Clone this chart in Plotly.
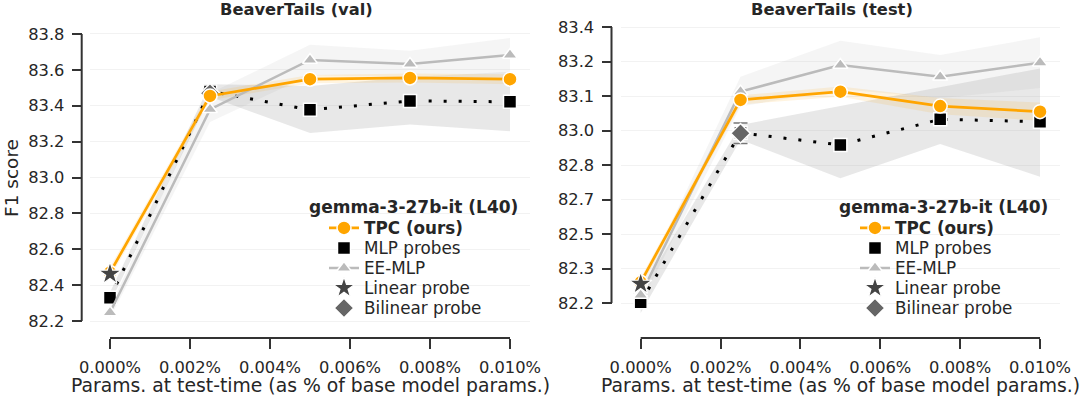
import plotly.graph_objects as go

# ---------------- data ----------------
x_params = [0.0, 0.0025, 0.005, 0.0075, 0.01]
x_ticks = [0.0, 0.002, 0.004, 0.006, 0.008, 0.010]
x_ticktext = ["0.000%", "0.002%", "0.004%", "0.006%", "0.008%", "0.010%"]

# BeaverTails (val)
val_yticks = [82.2, 82.4, 82.6, 82.8, 83.0, 83.2, 83.4, 83.6, 83.8]
val_yticktext = ["82.2", "82.4", "82.6", "82.8", "83.0", "83.2", "83.4", "83.6", "83.8"]
tpc_val = [82.47, 83.455, 83.548, 83.555, 83.548]
tpc_val_lo = [82.44, 83.43, 83.525, 83.53, 83.52]
tpc_val_hi = [82.50, 83.48, 83.572, 83.58, 83.575]
mlp_val = [82.33, 83.48, 83.377, 83.427, 83.422]
mlp_val_lo = [82.30, 83.45, 83.248, 83.295, 83.258]
mlp_val_hi = [82.36, 83.52, 83.51, 83.56, 83.59]
ee_val = [82.247, 83.38, 83.655, 83.633, 83.683]
ee_val_lo = [82.215, 83.31, 83.57, 83.56, 83.59]
ee_val_hi = [82.28, 83.47, 83.74, 83.707, 83.778]
linear_x = [0.0]
linear_val = [82.463]
bilinear_x = [0.0025]
bilinear_val = [83.47]
bilinear_val_err = [0.02]

# BeaverTails (test)
test_yticks = [82.2, 82.35, 82.5, 82.65, 82.8, 82.95, 83.1, 83.25, 83.4]
test_yticktext = ["82.2", "82.3", "82.5", "82.7", "82.8", "83.0", "83.1", "83.2", "83.4"]
tpc_test = [82.29, 83.083, 83.119, 83.056, 83.032]
tpc_test_lo = [82.27, 83.063, 83.097, 83.021, 82.992]
tpc_test_hi = [82.31, 83.103, 83.141, 83.091, 83.072]
mlp_test = [82.203, 82.94, 82.887, 82.999, 82.988]
mlp_test_lo = [82.157, 82.91, 82.742, 82.891, 82.749]
mlp_test_hi = [82.25, 82.974, 83.057, 83.139, 83.22]
ee_test = [82.235, 83.119, 83.235, 83.184, 83.245]
ee_test_lo = [82.20, 83.054, 83.13, 83.09, 83.135]
ee_test_hi = [82.27, 83.184, 83.34, 83.278, 83.355]
linear_test = [82.283]
bilinear_test = [82.938]
bilinear_test_err = [0.045]

# ---------------- helpers ----------------
W, H = 1080, 397
def px(v):
    return v / W
def py(v):
    return 1 - v / H

FONT = "DejaVu Sans"
TXT = "#262626"
ORANGE = "#FFA500"
GREY = "#BBBBBB"

fig = go.Figure()

def lid(n):
    return "legend" if n == 1 else "legend%d" % n

def band(x, lo, hi, color, xa, ya):
    fig.add_trace(go.Scatter(
        x=list(x) + list(x)[::-1], y=list(hi) + list(lo)[::-1],
        fill="toself", fillcolor=color, line=dict(width=0),
        mode="lines", showlegend=False, hoverinfo="skip", xaxis=xa, yaxis=ya))

def panel(xa, ya, l0, tpc, tpc_lo, tpc_hi, mlp, mlp_lo, mlp_hi, ee, ee_lo, ee_hi,
          lin, bil_x, bil, bil_err):
    band(x_params, ee_lo, ee_hi, "rgba(200,200,200,0.18)", xa, ya)
    band(x_params, mlp_lo, mlp_hi, "rgba(150,150,150,0.22)", xa, ya)
    band(x_params, tpc_lo, tpc_hi, "rgba(255,165,0,0.12)", xa, ya)
    # MLP probes
    fig.add_trace(go.Scatter(x=x_params, y=mlp, mode="lines",
                             line=dict(color="black", width=3, dash="3px,12px"),
                             showlegend=False, xaxis=xa, yaxis=ya))
    fig.add_trace(go.Scatter(x=x_params, y=mlp, mode="markers", name="MLP probes",
                             marker=dict(symbol="square", size=13, color="black",
                                         line=dict(color="white", width=1.5)),
                             legend=lid(l0 + 1), xaxis=xa, yaxis=ya))
    # EE-MLP
    fig.add_trace(go.Scatter(x=x_params, y=ee, mode="lines+markers", name="EE-MLP",
                             line=dict(color=GREY, width=2.5),
                             marker=dict(symbol="triangle-up", size=13, color=GREY,
                                         line=dict(color="white", width=1.5)),
                             legend=lid(l0 + 2), xaxis=xa, yaxis=ya))
    # Bilinear probe
    fig.add_trace(go.Scatter(x=bil_x, y=bil, mode="markers", name="Bilinear probe",
                             marker=dict(symbol="diamond", size=15, color="#666666",
                                         line=dict(color="white", width=1.5)),
                             error_y=dict(type="data", array=bil_err, color="#777777",
                                          thickness=1.5, width=7),
                             legend=lid(l0 + 4), xaxis=xa, yaxis=ya))
    # TPC
    fig.add_trace(go.Scatter(x=x_params, y=tpc, mode="lines+markers",
                             name="<b>TPC (ours)</b>",
                             line=dict(color=ORANGE, width=2.7),
                             marker=dict(symbol="circle", size=14, color=ORANGE,
                                         line=dict(color="white", width=1.5)),
                             legend=lid(l0), xaxis=xa, yaxis=ya))
    # Linear probe
    fig.add_trace(go.Scatter(x=linear_x, y=lin, mode="markers", name="Linear probe",
                             marker=dict(symbol="star", size=17, color="#444444",
                                         line=dict(color="white", width=1.2)),
                             legend=lid(l0 + 3), xaxis=xa, yaxis=ya))

panel("x", "y", 1, tpc_val, tpc_val_lo, tpc_val_hi, mlp_val, mlp_val_lo, mlp_val_hi,
      ee_val, ee_val_lo, ee_val_hi, linear_val, bilinear_x, bilinear_val, bilinear_val_err)
panel("x2", "y2", 6, tpc_test, tpc_test_lo, tpc_test_hi, mlp_test, mlp_test_lo,
      mlp_test_hi, ee_test, ee_test_lo, ee_test_hi, linear_test, bilinear_x, bilinear_test,
      bilinear_test_err)

tickfont = dict(family=FONT, size=16.3, color=TXT)

def xaxis_cfg(x0, x1):
    return dict(domain=[px(x0), px(x1)], range=[-0.0005, 0.0105], anchor="free",
                position=py(338), showline=False, showgrid=False, zeroline=False,
                automargin=False, ticklabelstandoff=4,
                ticks="outside", ticklen=10, tickwidth=2, tickcolor="#333333",
                tickvals=x_ticks, ticktext=x_ticktext, tickfont=tickfont)

def yaxis_cfg(pos, rng, tv, tt):
    return dict(domain=[py(330), py(22)], range=rng, anchor="free", position=px(pos),
                showline=False, showgrid=True, gridcolor="#F2F2F2", gridwidth=1,
                zeroline=False, automargin=False, ticklabelstandoff=4,
                ticks="outside", ticklen=10, tickwidth=2,
                tickcolor="#333333", tickvals=tv, ticktext=tt, tickfont=tickfont)

left_rng = [82.2 - 9 / 179.5, 83.8 + 12 / 179.5]
right_rng = [82.2 - 27 / 230.0, 83.4 + 5 / 230.0]

legend_common = dict(bgcolor="rgba(0,0,0,0)", borderwidth=0, xanchor="left", yanchor="middle",
                     font=dict(family=FONT, size=16.8, color=TXT))

row_y = [228, 248, 268, 288, 308]
legends = {}
for i, yy in enumerate(row_y):
    legends[lid(1 + i)] = dict(x=px(324), y=py(yy), **legend_common)
    legends[lid(6 + i)] = dict(x=px(855), y=py(yy), **legend_common)

fig.update_layout(
    width=W, height=H, autosize=False,
    margin=dict(l=0, r=0, t=0, b=0, pad=0),
    paper_bgcolor="white", plot_bgcolor="white",
    font=dict(family=FONT, color=TXT),
    xaxis=xaxis_cfg(90, 530),
    yaxis=yaxis_cfg(81.7, left_rng, val_yticks, val_yticktext),
    xaxis2=xaxis_cfg(620.7, 1060),
    yaxis2=yaxis_cfg(611.5, right_rng, test_yticks, test_yticktext),
    showlegend=True,
    **legends,
)

# trimmed spines
spine = dict(color="#333333", width=2)
shapes = []
for xa, pos, ya, y0, y1 in [("x", 81.7, "y", 82.2, 83.8), ("x2", 611.5, "y2", 82.2, 83.4)]:
    shapes.append(dict(type="line", xref=xa, yref="paper", x0=0, x1=0.01,
                       y0=py(338), y1=py(338), line=spine))
    shapes.append(dict(type="line", xref="paper", yref=ya, x0=px(pos), x1=px(pos),
                       y0=y0, y1=y1, line=spine))
fig.update_layout(shapes=shapes)

ann = []
ann.append(dict(text="<b>BeaverTails (val)</b>", x=px(296), y=py(9), xref="paper", yref="paper",
                showarrow=False, xanchor="center", yanchor="middle",
                font=dict(family=FONT, size=16.3, color=TXT)))
ann.append(dict(text="<b>BeaverTails (test)</b>", x=px(832), y=py(9), xref="paper", yref="paper",
                showarrow=False, xanchor="center", yanchor="middle",
                font=dict(family=FONT, size=16.3, color=TXT)))
for cx in (310, 840):
    ann.append(dict(text="Params. at test-time (as % of base model params.)", x=px(cx), y=py(385),
                    xref="paper", yref="paper", showarrow=False, xanchor="center",
                    yanchor="middle", font=dict(family=FONT, size=18.8, color=TXT)))
ann.append(dict(text="F1 score", x=px(11), y=py(178), xref="paper", yref="paper",
                showarrow=False, textangle=-90, xanchor="center", yanchor="middle",
                font=dict(family=FONT, size=18.5, color=TXT)))
for lx in (306.7, 837.3):
    ann.append(dict(text="<b>gemma-3-27b-it (L40)</b>", x=px(lx), y=py(207), xref="paper",
                    yref="paper", showarrow=False, xanchor="left", yanchor="middle",
                    font=dict(family=FONT, size=17, color=TXT)))
fig.update_layout(annotations=ann)

fig.write_html("out.html", config={"displayModeBar": False},
               post_script="document.body.style.margin='0';document.body.style.overflow='hidden';")
